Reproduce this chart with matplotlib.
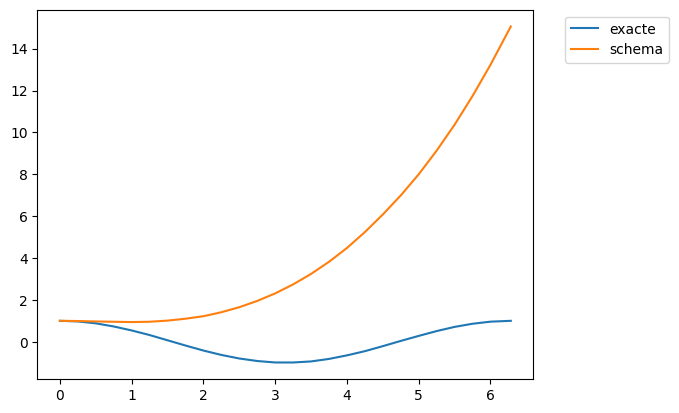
import matplotlib
matplotlib.use("Agg")
import matplotlib.pyplot as plt
import numpy as np

# values
t = [0.0, 0.25, 0.5, 0.75, 1.0, 1.25, 1.5, 1.75, 2.0, 2.25, 2.5, 2.75, 3.0,
     3.25, 3.5, 3.75, 4.0, 4.25, 4.5, 4.75, 5.0, 5.25, 5.5, 5.75, 6.0, 6.283]
exacte = [1.00, 0.97, 0.88, 0.73, 0.54, 0.32, 0.07, -0.18, -0.42, -0.63, -0.80,
          -0.92, -0.99, -0.99, -0.94, -0.82, -0.65, -0.45, -0.21, 0.04, 0.28,
          0.51, 0.71, 0.86, 0.96, 1.00]
schema = [1.00, 0.99, 0.97, 0.955, 0.94, 0.955, 1.01, 1.10, 1.22, 1.41, 1.65,
          1.95, 2.31, 2.74, 3.24, 3.82, 4.48, 5.24, 6.08, 6.99, 8.00, 9.13,
          10.37, 11.74, 13.23, 15.06]

plt.figure(figsize=(6.4, 4.8))
plt.plot(t, exacte, label='exacte')
plt.plot(t, schema, label='schema')
plt.legend(bbox_to_anchor=(1.05, 1), loc='upper left')
plt.savefig('out.png', dpi=100, bbox_inches='tight')
